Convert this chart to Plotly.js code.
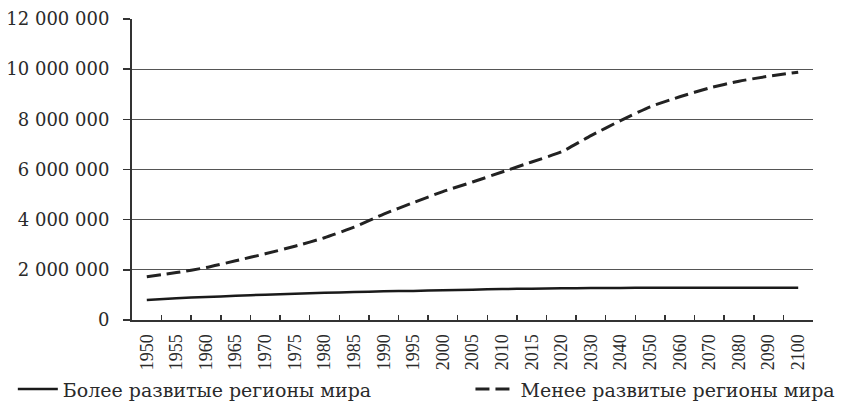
<!DOCTYPE html>
<html>
<head>
<meta charset="utf-8">
<script src="https://cdn.plot.ly/plotly-3.0.1.min.js"></script>
<style>html,body{margin:0;padding:0;background:#fff;}#chart{width:844px;height:408px;}</style>
</head>
<body>
<div id="chart"></div>
<script>
const years = ["1950","1955","1960","1965","1970","1975","1980","1985","1990","1995","2000","2005","2010","2015","2020","2030","2040","2050","2060","2070","2080","2090","2100"];
const moreDeveloped = [800000,870000,915000,965000,1008000,1048000,1083000,1114000,1144000,1160000,1190000,1210000,1233000,1250000,1262000,1275000,1280000,1282000,1282000,1282000,1282000,1282000,1282000];
const lessDeveloped = [1720000,1890000,2090000,2360000,2640000,2940000,3280000,3700000,4220000,4680000,5120000,5500000,5900000,6300000,6700000,7350000,7950000,8500000,8900000,9250000,9520000,9720000,9880000];
const seriesNames = ["Более развитые регионы мира","Менее развитые регионы мира"];

const serif = "'Liberation Serif', 'Times New Roman', serif";
const wideSerif = "'DejaVu Serif', serif";
const ink = "#2a2a2a";

const traces = [
  {x: years, y: moreDeveloped, name: seriesNames[0], type: "scatter", mode: "lines", legend: "legend",
   line: {color: "#1a1a1a", width: 2.5, shape: "spline", smoothing: 0.5}},
  {x: years, y: lessDeveloped, name: seriesNames[1], type: "scatter", mode: "lines", legend: "legend2",
   line: {color: "#222", width: 3, dash: "14px,6px", shape: "spline", smoothing: 0.5}}
];

const legendCommon = {orientation: "h", yanchor: "middle", y: -0.23, xanchor: "left",
  font: {family: wideSerif, size: 19, color: ink}, itemwidth: 40, bgcolor: "rgba(0,0,0,0)"};

const layout = {
  width: 844, height: 408,
  margin: {l: 132, r: 31, t: 19, b: 87.5, autoexpand: false},
  paper_bgcolor: "#fff", plot_bgcolor: "#fff",
  separators: ". ",
  font: {family: serif, color: ink, size: 18},
  showlegend: true,
  legend: Object.assign({}, legendCommon, {x: -0.175}),
  legend2: Object.assign({}, legendCommon, {x: 0.497}),
  xaxis: {type: "category", range: [-0.5, 22.5], showgrid: false, showline: true, linecolor: "#333", linewidth: 2,
          ticks: "inside", tickson: "boundaries", ticklen: 5, tickcolor: "#333", tickwidth: 1.5, automargin: false,
          ticklabelstandoff: 5,
          tickangle: -90, tickfont: {family: serif, size: 18, color: ink}, zeroline: false, fixedrange: true},
  yaxis: {range: [0, 12000000], dtick: 2000000, tickformat: ",d", showgrid: true, gridcolor: "#555", gridwidth: 1.2,
          showline: true, linecolor: "#333", linewidth: 2, ticks: "outside", ticklen: 7, tickcolor: "#333", tickwidth: 1.5,
          ticklabelstandoff: 10,
          automargin: false, tickfont: {family: wideSerif, size: 18, color: ink}, zeroline: false, fixedrange: true}
};

Plotly.newPlot("chart", traces, layout, {displayModeBar: false, staticPlot: true});
</script>
</body>
</html>
